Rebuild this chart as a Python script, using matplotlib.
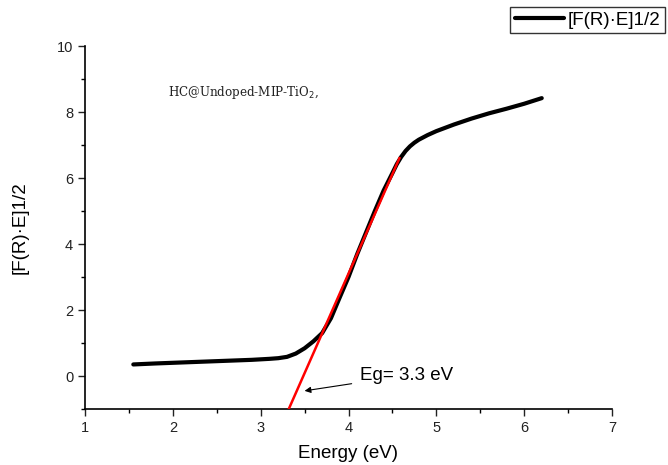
import matplotlib
matplotlib.use("Agg")
import matplotlib.pyplot as plt
from matplotlib.ticker import MultipleLocator

# curve
energy = [1.55, 1.8, 2.0, 2.3, 2.6, 2.9, 3.1, 3.2, 3.3, 3.4, 3.5, 3.6, 3.7, 3.8,
          3.9, 4.0, 4.1, 4.2, 4.3, 4.4, 4.5, 4.55, 4.6, 4.65, 4.7, 4.75, 4.8, 4.9,
          5.0, 5.2, 5.4, 5.6, 5.8, 6.0, 6.2]
signal = [0.35, 0.38, 0.40, 0.43, 0.46, 0.49, 0.52, 0.54, 0.58, 0.68, 0.84, 1.05,
          1.30, 1.75, 2.38, 3.00, 3.70, 4.35, 5.00, 5.62, 6.15, 6.42, 6.64, 6.82,
          6.96, 7.07, 7.16, 7.30, 7.42, 7.62, 7.80, 7.96, 8.10, 8.25, 8.42]

# linear fit line (red)
fit_x = [3.32, 4.58]
fit_y = [-1.0, 6.6]

plt.rcParams['font.family'] = ['Liberation Sans', 'DejaVu Sans']

fig = plt.figure(figsize=(6.68, 4.65), dpi=100)
ax = fig.add_axes([85/668, 1 - 409/465, (612-85)/668, (409-46)/465])

ax.plot(energy, signal, color='black', lw=3, label='[F(R)·E]1/2', zorder=2,
        solid_joinstyle='round', solid_capstyle='round')
ax.plot(fit_x, fit_y, color='red', lw=1.8, zorder=3)

ax.set_xlim(1, 7)
ax.set_ylim(-1, 10)
ax.xaxis.set_major_locator(MultipleLocator(1))
ax.xaxis.set_minor_locator(MultipleLocator(0.5))
ax.yaxis.set_major_locator(MultipleLocator(2))
ax.yaxis.set_minor_locator(MultipleLocator(1))
ax.tick_params(which='major', direction='out', length=5, width=1, labelsize=10.5, colors='#222222')
ax.tick_params(which='minor', direction='out', length=3, width=1)

for s in ['top', 'right']:
    ax.spines[s].set_visible(False)
for s in ['left', 'bottom']:
    ax.spines[s].set_linewidth(1.2)

ax.set_xlabel('Energy (eV)', fontsize=13.5, labelpad=7)
ax.set_ylabel('[F(R)·E]1/2', fontsize=13.5, labelpad=20)

ax.text(1.95, 8.58, 'HC@Undoped-MIP-TiO$_2$,', fontsize=8.6, family='DejaVu Serif',
        color='#222222', va='center')

ax.annotate('Eg= 3.3 eV', xy=(3.5, -0.45), xytext=(4.13, 0.02),
            fontsize=13.5, va='center',
            arrowprops=dict(arrowstyle='-|>', color='black', lw=0.8,
                            mutation_scale=9, shrinkB=0, shrinkA=4))

fig.legend(loc='upper right', bbox_to_anchor=(665/668, 1 - 7/465),
           fontsize=13.5, frameon=True, fancybox=False, edgecolor='black',
           handlelength=2.6, borderpad=0.25, handletextpad=0.2,
           borderaxespad=0)

fig.savefig('out.png', dpi=100)
